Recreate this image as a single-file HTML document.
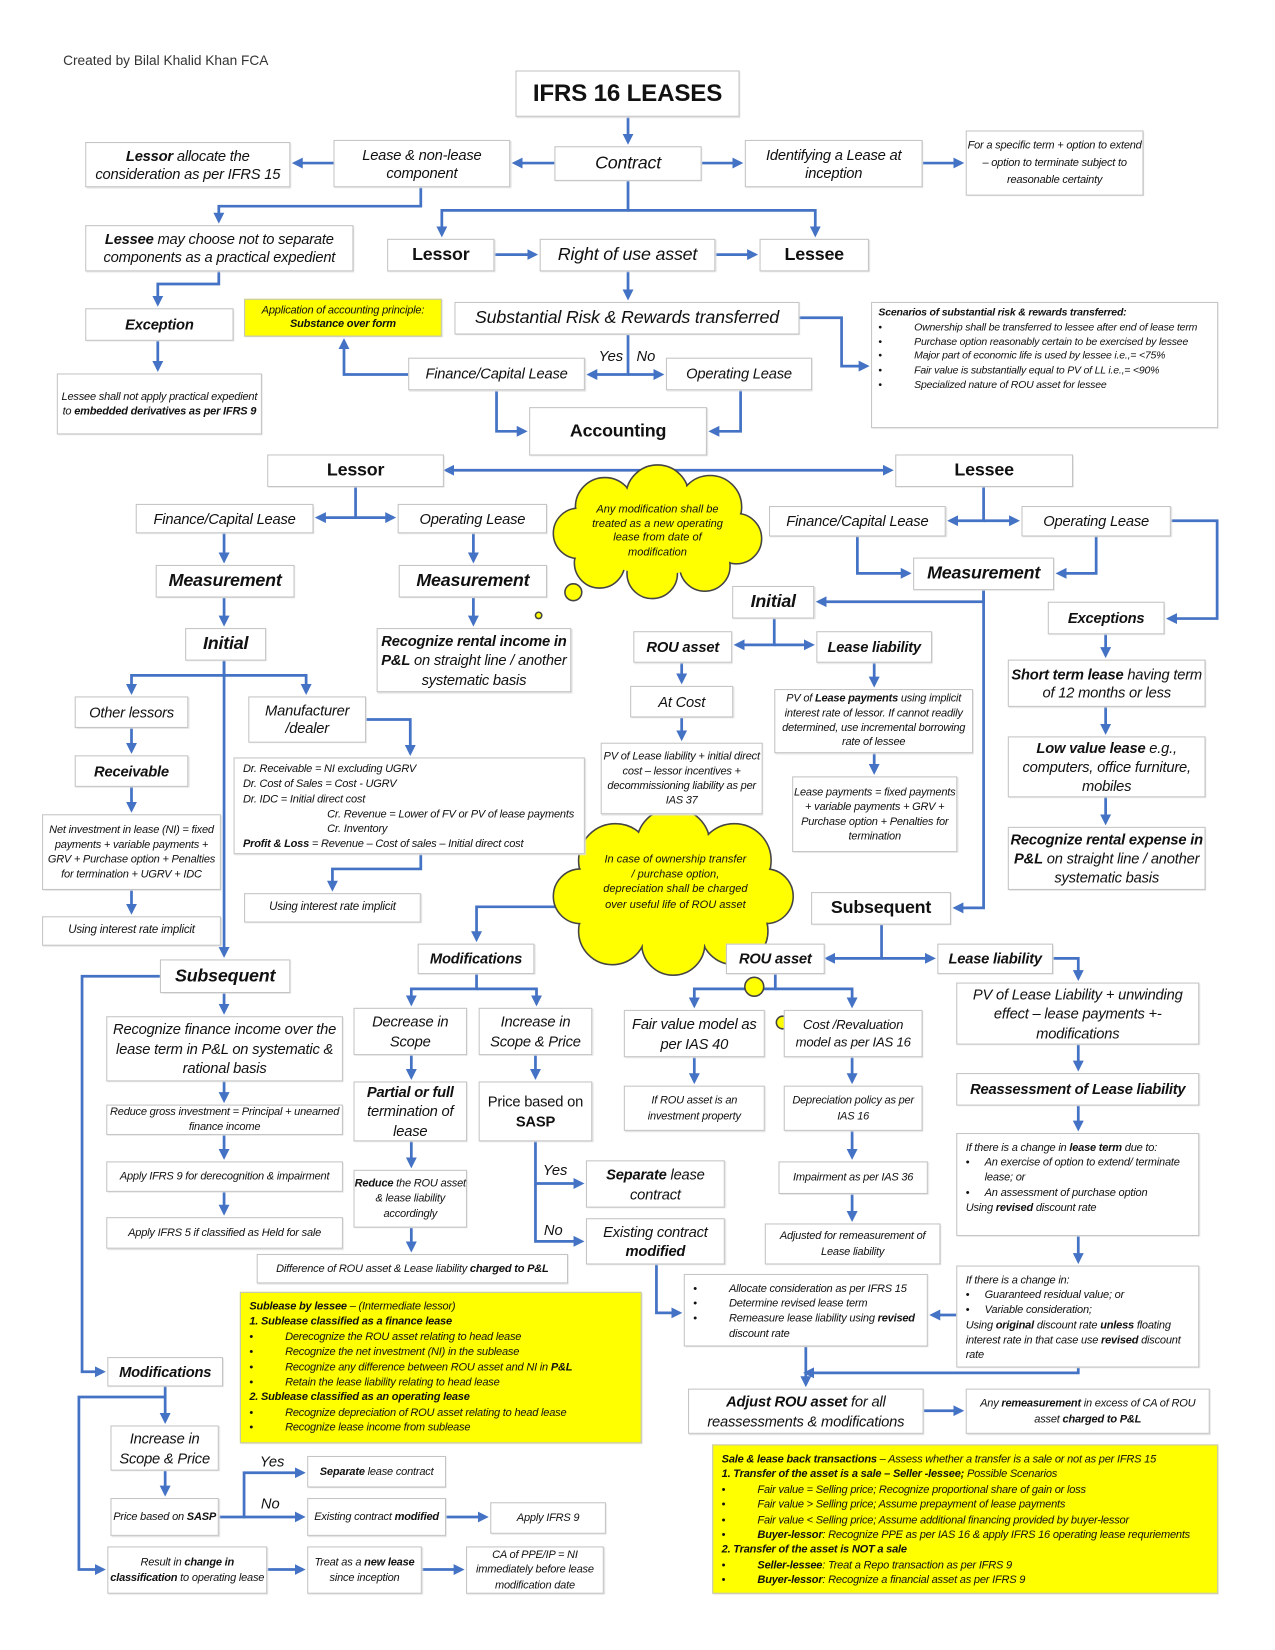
<!DOCTYPE html>
<html><head><meta charset="utf-8"><style>
html,body{margin:0;padding:0;background:#fff;}
#wrap{width:1275px;height:1650px;overflow:hidden;position:relative;background:#fff;}
#s{position:absolute;left:0;top:0;width:1212px;height:1568px;transform:scale(1.05198);transform-origin:0 0;font-family:"Liberation Sans",sans-serif;color:#111;}
.b{position:absolute;box-sizing:border-box;border:1px solid #c4c4c4;background:#fff;display:flex;align-items:center;justify-content:center;text-align:center;font-style:italic;line-height:1.2;box-shadow:1px 1px 1px #ddd;letter-spacing:-0.2px;}
.t{position:absolute;font-style:italic;font-size:13px;}
.y{background:#ffff00;}
.l{justify-content:flex-start;text-align:left;align-items:flex-start;}
ul{margin:0;padding:0;list-style:none;}
li{position:relative;padding-left:34px;}
li:before{content:"•";position:absolute;left:0;font-style:normal;}
svg{position:absolute;left:0;top:0;}
</style></head><body><div id="wrap"><div id="s">
<svg width="1212" height="1568" viewBox="0 0 1212 1568">
<defs><marker id="a" markerWidth="4" markerHeight="4" refX="3" refY="2" orient="auto-start-reverse" markerUnits="strokeWidth"><path d="M0,0 L4,2 L0,4 z" fill="#4472c4"/></marker></defs>
<g fill="none" stroke="#4472c4" stroke-width="2.6" marker-end="url(#a)">
<polyline points="597,111 597,135"/>
<polyline points="527,155 489,155"/>
<polyline points="317,155 280,155"/>
<polyline points="667,155 704,155"/>
<polyline points="877,155 914,155"/>
<polyline points="400,178 400,196 208,196 208,210"/>
<polyline points="597,172 597,200 420,200 420,223"/>
<polyline points="597,200 775,200 775,223"/>
<polyline points="470,242 509,242"/>
<polyline points="680,242 718,242"/>
<polyline points="597,258 597,283"/>
<polyline points="208,258 208,270 150,270 150,289"/>
<polyline points="150,324 150,351"/>
<polyline points="388,356 327,356 327,324"/>
<polyline points="597,318 597,356 560,356"/>
<polyline points="597,356 629,356"/>
<polyline points="760,302 800,302 800,348 824,348"/>
<polyline points="472,371 472,410 499,410"/>
<polyline points="704,371 704,410 676,410"/>
<polyline points="424,447 847,447" marker-start="url(#a)"/>
<polyline points="338,463 338,492 302,492"/>
<polyline points="338,492 374,492"/>
<polyline points="935,463 935,495 903,495"/>
<polyline points="935,495 967,495"/>
<polyline points="213,507 213,533"/>
<polyline points="450,507 450,533"/>
<polyline points="815,510 815,545 864,545"/>
<polyline points="1042,510 1042,545 1006,545"/>
<polyline points="1113,495 1157,495 1157,588 1111,588"/>
<polyline points="935,561 935,572 778,572"/>
<polyline points="935,561 935,863 908,863"/>
<polyline points="213,568 213,593"/>
<polyline points="450,568 450,593"/>
<polyline points="736,588 736,613 700,613"/>
<polyline points="736,613 772,613"/>
<polyline points="1051,603 1051,623"/>
<polyline points="1051,672 1051,696"/>
<polyline points="1051,758 1051,782"/>
<polyline points="648,630 648,648"/>
<polyline points="648,682 648,702"/>
<polyline points="831,630 831,651"/>
<polyline points="831,716 831,734"/>
<polyline points="213,628 213,642 125,642 125,658"/>
<polyline points="213,642 291,642 291,658"/>
<polyline points="213,628 213,908"/>
<polyline points="125,692 125,714"/>
<polyline points="125,748 125,770"/>
<polyline points="125,846 125,867"/>
<polyline points="348,684 390,684 390,716"/>
<polyline points="400,812 400,826 316,826 316,845"/>
<polyline points="838,879 838,911 786,911"/>
<polyline points="838,911 887,911"/>
<polyline points="545,862 453,862 453,893"/>
<polyline points="453,926 453,940 391,940 391,954"/>
<polyline points="453,940 510,940 510,954"/>
<polyline points="737,926 737,940 660,940 660,956"/>
<polyline points="737,940 810,940 810,956"/>
<polyline points="1001,911 1025,911 1025,930"/>
<polyline points="1025,993 1025,1016"/>
<polyline points="1025,1051 1025,1073"/>
<polyline points="1025,1175 1025,1199"/>
<polyline points="391,1003 391,1024"/>
<polyline points="391,1085 391,1108"/>
<polyline points="391,1167 391,1188"/>
<polyline points="509,1003 509,1024"/>
<polyline points="509,1085 509,1125 553,1125"/>
<polyline points="509,1125 509,1180 553,1180"/>
<polyline points="660,1005 660,1028"/>
<polyline points="810,1005 810,1028"/>
<polyline points="810,1075 810,1100"/>
<polyline points="810,1135 810,1159"/>
<polyline points="624,1202 624,1248 646,1248"/>
<polyline points="909,1250 886,1250"/>
<polyline points="766,1280 766,1316"/>
<polyline points="1025,1300 1025,1305 766,1305"/>
<polyline points="878,1341 914,1341"/>
<polyline points="152,928 78,928 78,1304 98,1304"/>
<polyline points="213,944 213,962"/>
<polyline points="213,1028 213,1046"/>
<polyline points="213,1079 213,1100"/>
<polyline points="213,1133 213,1153"/>
<polyline points="157,1318 157,1351"/>
<polyline points="157,1328 75,1328 75,1492 98,1492"/>
<polyline points="157,1398 157,1420"/>
<polyline points="208,1442 232,1442 232,1400 288,1400"/>
<polyline points="232,1442 288,1442"/>
<polyline points="424,1442 462,1442"/>
<polyline points="254,1492 288,1492"/>
<polyline points="401,1492 439,1492"/>
</g>
<g stroke="#444" stroke-width="1.5" fill="#ffff00">
<circle cx="575" cy="482" r="28"/><circle cx="625" cy="472" r="30"/><circle cx="675" cy="482" r="30"/><circle cx="700" cy="512" r="24"/><circle cx="670" cy="538" r="24"/><circle cx="620" cy="545" r="24"/><circle cx="570" cy="535" r="24"/><circle cx="550" cy="507" r="24"/>
<circle cx="585" cy="818" r="35"/><circle cx="640" cy="803" r="35"/><circle cx="698" cy="818" r="35"/><circle cx="728" cy="852" r="26"/><circle cx="698" cy="885" r="32"/><circle cx="640" cy="897" r="30"/><circle cx="582" cy="885" r="32"/><circle cx="552" cy="852" r="26"/>
<circle cx="545" cy="563" r="8"/><circle cx="512" cy="585" r="3"/>
<circle cx="717" cy="938" r="9"/><circle cx="744" cy="972" r="6"/><circle cx="768" cy="1001" r="3"/>
</g>
<g fill="#ffff00">
<circle cx="575" cy="482" r="27"/><circle cx="625" cy="472" r="29"/><circle cx="675" cy="482" r="29"/><circle cx="700" cy="512" r="23"/><circle cx="670" cy="538" r="23"/><circle cx="620" cy="545" r="23"/><circle cx="570" cy="535" r="23"/><circle cx="550" cy="507" r="23"/><ellipse cx="625" cy="508" rx="70" ry="38"/>
<circle cx="585" cy="818" r="34"/><circle cx="640" cy="803" r="34"/><circle cx="698" cy="818" r="34"/><circle cx="728" cy="852" r="25"/><circle cx="698" cy="885" r="31"/><circle cx="640" cy="897" r="29"/><circle cx="582" cy="885" r="31"/><circle cx="552" cy="852" r="25"/><ellipse cx="640" cy="850" rx="90" ry="50"/>
</g>
</svg>

<div style="position:absolute;left:60px;top:50px;font-size:13px;color:#333">Created by Bilal Khalid Khan FCA</div>
<div class="b" style="left:490px;top:67px;width:213px;height:44px;font-style:normal;font-weight:bold;font-size:23px">IFRS 16 LEASES</div>
<div class="b" style="left:527px;top:139px;width:140px;height:33px;font-size:17px">Contract</div>
<div class="b" style="left:317px;top:133px;width:168px;height:45px;font-size:14px">Lease &amp; non-lease component</div>
<div class="b" style="left:81px;top:135px;width:195px;height:43px;font-size:14px"><span><b>Lessor</b> allocate the consideration as per IFRS 15</span></div>
<div class="b" style="left:708px;top:133px;width:169px;height:45px;font-size:14px">Identifying a Lease at inception</div>
<div class="b" style="left:918px;top:124px;width:169px;height:62px;font-size:10.5px;line-height:1.6">For a specific term + option to extend – option to terminate subject to reasonable certainty</div>
<div class="b" style="left:81px;top:214px;width:255px;height:44px;font-size:14px"><span><b>Lessee</b> may choose not to separate components as a practical expedient</span></div>
<div class="b" style="left:368px;top:227px;width:102px;height:31px;font-size:17px;font-style:normal;font-weight:bold">Lessor</div>
<div class="b" style="left:513px;top:227px;width:167px;height:31px;font-size:17px">Right of use asset</div>
<div class="b" style="left:722px;top:227px;width:104px;height:31px;font-size:17px;font-style:normal;font-weight:bold">Lessee</div>
<div class="b" style="left:81px;top:293px;width:141px;height:31px;font-size:14px;font-weight:bold">Exception</div>
<div class="b y" style="left:232px;top:284px;width:188px;height:36px;font-size:10.5px"><span>Application of accounting principle:<br><b>Substance over form</b></span></div>
<div class="b" style="left:432px;top:287px;width:328px;height:31px;font-size:17px">Substantial Risk &amp; Rewards transferred</div>
<div class="b l" style="left:828px;top:287px;width:330px;height:120px;font-size:10px;padding:3px 6px;flex-direction:column;line-height:1.38"><b>Scenarios of substantial risk &amp; rewards transferred:</b><ul><li>Ownership shall be transferred to lessee after end of lease term</li><li>Purchase option reasonably certain to be exercised by lessee</li><li>Major part of economic life is used by lessee i.e.,= &lt;75%</li><li>Fair value is substantially equal to PV of LL i.e.,= &lt;90%</li><li>Specialized nature of ROU asset for lessee</li></ul></div>
<div class="b" style="left:54px;top:355px;width:195px;height:58px;font-size:10.5px;line-height:1.35"><span>Lessee shall not apply practical expedient to <b>embedded derivatives as per IFRS 9</b></span></div>
<div class="b" style="left:388px;top:340px;width:168px;height:31px;font-size:14px">Finance/Capital Lease</div>
<div class="b" style="left:633px;top:340px;width:139px;height:31px;font-size:14px">Operating Lease</div>
<div class="t" style="left:569px;top:330px;font-size:14px">Yes</div>
<div class="t" style="left:605px;top:330px;font-size:14px">No</div>
<div class="b" style="left:503px;top:387px;width:169px;height:46px;font-size:17px;font-style:normal;font-weight:bold">Accounting</div>
<div class="b" style="left:254px;top:432px;width:168px;height:31px;font-size:17px;font-style:normal;font-weight:bold">Lessor</div>
<div class="b" style="left:851px;top:432px;width:169px;height:31px;font-size:17px;font-style:normal;font-weight:bold">Lessee</div>
<div class="b" style="left:129px;top:479px;width:169px;height:28px;font-size:14px">Finance/Capital Lease</div>
<div class="b" style="left:378px;top:479px;width:142px;height:28px;font-size:14px">Operating Lease</div>
<div style="position:absolute;left:560px;top:478px;width:130px;text-align:center;font-style:italic;font-size:10.5px;line-height:1.3">Any modification shall be treated as a new operating lease from date of modification</div>
<div class="b" style="left:731px;top:481px;width:168px;height:29px;font-size:14px">Finance/Capital Lease</div>
<div class="b" style="left:971px;top:481px;width:142px;height:29px;font-size:14px">Operating Lease</div>
<div class="b" style="left:148px;top:537px;width:132px;height:31px;font-size:17px;font-weight:bold">Measurement</div>
<div class="b" style="left:379px;top:537px;width:141px;height:31px;font-size:17px;font-weight:bold">Measurement</div>
<div class="b" style="left:868px;top:530px;width:134px;height:31px;font-size:17px;font-weight:bold">Measurement</div>
<div class="b" style="left:696px;top:557px;width:78px;height:31px;font-size:17px;font-weight:bold">Initial</div>
<div class="b" style="left:996px;top:572px;width:111px;height:31px;font-size:14px;font-weight:bold">Exceptions</div>
<div class="b" style="left:176px;top:597px;width:77px;height:31px;font-size:17px;font-weight:bold">Initial</div>
<div class="b" style="left:358px;top:597px;width:185px;height:61px;font-size:14px;line-height:1.3"><span><b>Recognize rental income in P&amp;L</b> on straight line / another systematic basis</span></div>
<div class="b" style="left:602px;top:600px;width:94px;height:30px;font-size:14px;font-weight:bold">ROU asset</div>
<div class="b" style="left:776px;top:600px;width:110px;height:30px;font-size:14px;font-weight:bold">Lease liability</div>
<div class="b" style="left:958px;top:627px;width:188px;height:45px;font-size:14px"><span><b>Short term lease</b> having term of 12 months or less</span></div>
<div class="b" style="left:71px;top:662px;width:108px;height:30px;font-size:14px">Other lessors</div>
<div class="b" style="left:236px;top:662px;width:112px;height:44px;font-size:14px">Manufacturer /dealer</div>
<div class="b" style="left:599px;top:652px;width:98px;height:30px;font-size:14px">At Cost</div>
<div class="b" style="left:736px;top:655px;width:189px;height:61px;font-size:10.5px;line-height:1.3"><span>PV of <b>Lease payments</b> using implicit interest rate of lessor. If cannot readily determined, use incremental borrowing rate of lessee</span></div>
<div class="b" style="left:958px;top:700px;width:188px;height:58px;font-size:14px;line-height:1.3"><span><b>Low value lease</b> e.g., computers, office furniture, mobiles</span></div>
<div class="b" style="left:71px;top:718px;width:108px;height:30px;font-size:14px;font-weight:bold">Receivable</div>
<div class="b l" style="left:222px;top:720px;width:334px;height:92px;font-size:10.5px;padding:3px 8px;line-height:1.36;display:block"><div>Dr. Receivable = NI excluding UGRV</div><div>Dr. Cost of Sales = Cost - UGRV</div><div>Dr. IDC = Initial direct cost</div><div style="padding-left:80px">Cr. Revenue = Lower of FV or PV of lease payments</div><div style="padding-left:80px">Cr. Inventory</div><div><b>Profit &amp; Loss</b> = Revenue – Cost of sales – Initial direct cost</div></div>
<div class="b" style="left:571px;top:706px;width:154px;height:68px;font-size:10.5px;line-height:1.35">PV of Lease liability + initial direct cost – lessor incentives + decommissioning liability as per IAS 37</div>
<div class="b" style="left:753px;top:738px;width:157px;height:72px;font-size:10.5px;line-height:1.35">Lease payments = fixed payments + variable payments + GRV + Purchase option + Penalties for termination</div>
<div class="b" style="left:40px;top:774px;width:170px;height:72px;font-size:10.5px;line-height:1.35">Net investment in lease (NI) = fixed payments + variable payments + GRV + Purchase option + Penalties for termination + UGRV + IDC</div>
<div class="b" style="left:958px;top:786px;width:188px;height:60px;font-size:14px;line-height:1.3"><span><b>Recognize rental expense in P&amp;L</b> on straight line / another systematic basis</span></div>
<div style="position:absolute;left:572px;top:810px;width:140px;text-align:center;font-style:italic;font-size:10.5px;line-height:1.35">In case of ownership transfer / purchase option, depreciation shall be charged over useful life of ROU asset</div>
<div class="b" style="left:232px;top:849px;width:168px;height:28px;font-size:11px">Using interest rate implicit</div>
<div class="b" style="left:771px;top:848px;width:133px;height:31px;font-size:17px;font-style:normal;font-weight:bold">Subsequent</div>
<div class="b" style="left:40px;top:871px;width:170px;height:28px;font-size:11px">Using interest rate implicit</div>
<div class="b" style="left:397px;top:897px;width:111px;height:29px;font-size:14px;font-weight:bold">Modifications</div>
<div class="b" style="left:690px;top:897px;width:94px;height:29px;font-size:14px;font-weight:bold">ROU asset</div>
<div class="b" style="left:891px;top:897px;width:110px;height:29px;font-size:14px;font-weight:bold">Lease liability</div>
<div class="b" style="left:152px;top:912px;width:124px;height:32px;font-size:17px;font-weight:bold">Subsequent</div>
<div class="b" style="left:909px;top:934px;width:231px;height:59px;font-size:14px;line-height:1.3">PV of Lease Liability + unwinding effect – lease payments +- modifications</div>
<div class="b" style="left:336px;top:958px;width:108px;height:45px;font-size:14px;line-height:1.3">Decrease in Scope</div>
<div class="b" style="left:455px;top:958px;width:108px;height:45px;font-size:14px;line-height:1.3">Increase in Scope &amp; Price</div>
<div class="b" style="left:593px;top:960px;width:134px;height:45px;font-size:14px;line-height:1.3">Fair value model as per IAS 40</div>
<div class="b" style="left:745px;top:960px;width:132px;height:45px;font-size:12.5px;line-height:1.3">Cost /Revaluation model as per IAS 16</div>
<div class="b" style="left:101px;top:966px;width:225px;height:62px;font-size:14px;line-height:1.35">Recognize finance income over the lease term in P&amp;L on systematic &amp; rational basis</div>
<div class="b" style="left:336px;top:1028px;width:108px;height:57px;font-size:14px;line-height:1.3"><span><b>Partial or full</b> termination of lease</span></div>
<div class="b" style="left:455px;top:1028px;width:108px;height:57px;font-size:14px;line-height:1.3;font-style:normal"><span>Price based on <b>SASP</b></span></div>
<div class="b" style="left:593px;top:1032px;width:134px;height:43px;font-size:10.5px;line-height:1.35">If ROU asset is an investment property</div>
<div class="b" style="left:745px;top:1032px;width:132px;height:43px;font-size:10.5px;line-height:1.35">Depreciation policy as per IAS 16</div>
<div class="b" style="left:909px;top:1020px;width:231px;height:31px;font-size:14px;font-weight:bold">Reassessment of Lease liability</div>
<div class="b" style="left:101px;top:1050px;width:225px;height:29px;font-size:10.5px;line-height:1.3">Reduce gross investment = Principal + unearned finance income</div>
<div class="t" style="left:516px;top:1104px;font-size:14px">Yes</div>
<div class="b" style="left:557px;top:1103px;width:132px;height:45px;font-size:14px;line-height:1.3"><span><b>Separate</b> lease contract</span></div>
<div class="b" style="left:101px;top:1104px;width:225px;height:29px;font-size:10.5px;line-height:1.3">Apply IFRS 9 for derecognition &amp; impairment</div>
<div class="b" style="left:740px;top:1104px;width:142px;height:31px;font-size:10.5px">Impairment as per IAS 36</div>
<div class="b l" style="left:909px;top:1077px;width:231px;height:98px;font-size:10.5px;padding:6px 8px;line-height:1.35;display:block"><div>If there is a change in <b>lease term</b> due to:</div><ul><li style="padding-left:18px">An exercise of option to extend/ terminate lease; or</li><li style="padding-left:18px">An assessment of purchase option</li></ul><div>Using <b>revised</b> discount rate</div></div>
<div class="b" style="left:336px;top:1112px;width:108px;height:55px;font-size:10.5px;line-height:1.35"><span><b>Reduce</b> the ROU asset &amp; lease liability accordingly</span></div>
<div class="t" style="left:517px;top:1161px;font-size:14px">No</div>
<div class="b" style="left:557px;top:1158px;width:132px;height:44px;font-size:14px;line-height:1.3"><span>Existing contract <b>modified</b></span></div>
<div class="b" style="left:101px;top:1157px;width:225px;height:30px;font-size:10.5px">Apply IFRS 5 if classified as Held for sale</div>
<div class="b" style="left:727px;top:1163px;width:167px;height:39px;font-size:10.5px;line-height:1.35">Adjusted for remeasurement of Lease liability</div>
<div class="b" style="left:244px;top:1192px;width:296px;height:28px;font-size:10.5px"><span>Difference of ROU asset &amp; Lease liability <b>charged to P&amp;L</b></span></div>
<div class="b l" style="left:909px;top:1203px;width:231px;height:97px;font-size:10.5px;padding:6px 8px;line-height:1.35;display:block"><div>If there is a change in:</div><ul><li style="padding-left:18px">Guaranteed residual value; or</li><li style="padding-left:18px">Variable consideration;</li></ul><div>Using <b>original</b> discount rate <b>unless</b> floating interest rate in that case use <b>revised</b> discount rate</div></div>
<div class="b l" style="left:650px;top:1211px;width:232px;height:69px;font-size:10.5px;padding:6px 8px;line-height:1.35;display:block"><ul><li>Allocate consideration as per IFRS 15</li><li>Determine revised lease term</li><li>Remeasure lease liability using <b>revised</b> discount rate</li></ul></div>
<div class="b y l" style="left:228px;top:1228px;width:382px;height:144px;font-size:10.5px;padding:6px 8px;line-height:1.37;display:block"><div><b>Sublease by lessee</b> – (Intermediate lessor)</div><div><b>1. Sublease classified as a finance lease</b></div><ul><li>Derecognize the ROU asset relating to head lease</li><li>Recognize the net investment (NI) in the sublease</li><li>Recognize any difference between ROU asset and NI in <b>P&amp;L</b></li><li>Retain the lease liability relating to head lease</li></ul><div><b>2. Sublease classified as an operating lease</b></div><ul><li>Recognize depreciation of ROU asset relating to head lease</li><li>Recognize lease income from sublease</li></ul></div>
<div class="b" style="left:102px;top:1290px;width:110px;height:28px;font-size:14px;font-weight:bold">Modifications</div>
<div class="b" style="left:654px;top:1320px;width:224px;height:43px;font-size:14px;line-height:1.3"><span><b>Adjust ROU asset</b> for all reassessments &amp; modifications</span></div>
<div class="b" style="left:918px;top:1320px;width:232px;height:43px;font-size:10.5px;line-height:1.35"><span>Any <b>remeasurement</b> in excess of CA of ROU asset <b>charged to P&amp;L</b></span></div>
<div class="b" style="left:105px;top:1355px;width:103px;height:43px;font-size:14px;line-height:1.3">Increase in Scope &amp; Price</div>
<div class="b y l" style="left:677px;top:1373px;width:481px;height:142px;font-size:10.5px;padding:6px 8px;line-height:1.37;display:block"><div><b>Sale &amp; lease back transactions</b> – Assess whether a transfer is a sale or not as per IFRS 15</div><div><b>1. Transfer of the asset is a sale – Seller -lessee;</b> Possible Scenarios</div><ul><li>Fair value = Selling price; Recognize proportional share of gain or loss</li><li>Fair value &gt; Selling price; Assume prepayment of lease payments</li><li>Fair value &lt; Selling price; Assume additional financing provided by buyer-lessor</li><li><b>Buyer-lessor</b>: Recognize PPE as per IAS 16 &amp; apply IFRS 16 operating lease requriements</li></ul><div><b>2. Transfer of the asset is NOT a sale</b></div><ul><li><b>Seller-lessee</b>: Treat a Repo transaction as per IFRS 9</li><li><b>Buyer-lessor</b>: Recognize a financial asset as per IFRS 9</li></ul></div>
<div class="t" style="left:247px;top:1381px;font-size:14px">Yes</div>
<div class="b" style="left:292px;top:1384px;width:132px;height:30px;font-size:10.5px"><span><b>Separate</b> lease contract</span></div>
<div class="b" style="left:105px;top:1424px;width:103px;height:36px;font-size:10.5px;line-height:1.35"><span>Price based on <b>SASP</b></span></div>
<div class="t" style="left:248px;top:1421px;font-size:14px">No</div>
<div class="b" style="left:292px;top:1424px;width:132px;height:36px;font-size:10.5px;line-height:1.35"><span>Existing contract <b>modified</b></span></div>
<div class="b" style="left:466px;top:1428px;width:110px;height:30px;font-size:10.5px">Apply IFRS 9</div>
<div class="b" style="left:102px;top:1470px;width:152px;height:45px;font-size:10.5px;line-height:1.35"><span>Result in <b>change in classification</b> to operating lease</span></div>
<div class="b" style="left:292px;top:1470px;width:109px;height:45px;font-size:10.5px;line-height:1.35"><span>Treat as a <b>new lease</b> since inception</span></div>
<div class="b" style="left:443px;top:1470px;width:131px;height:45px;font-size:10.5px;line-height:1.35">CA of PPE/IP = NI immediately before lease modification date</div>
</div></div></body></html>
